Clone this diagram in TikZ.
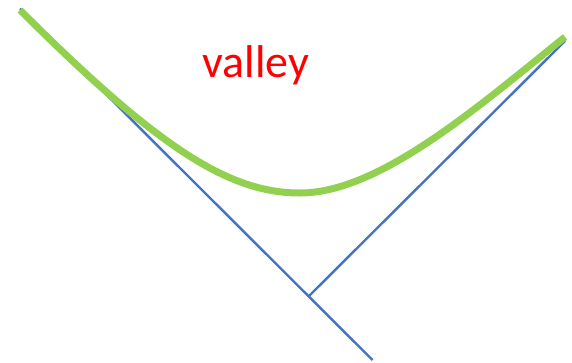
\documentclass[tikz,border=0pt]{standalone}
\usepackage{fontspec}
\setmainfont{Carlito}
\definecolor{axisblue}{HTML}{4472C4}
\definecolor{curvegreen}{HTML}{92D050}
\begin{document}
\begin{tikzpicture}[
  x=1pt, y=-1pt,
  % Line styles
  asym/.style={draw=axisblue, line width=2.4pt},
  valleycurve/.style={draw=curvegreen, line width=7pt},
  % Label style
  lbl/.style={font=\fontsize{46}{52}\selectfont, text=red, inner sep=0pt, anchor=base},
]
\useasboundingbox (0,0) rectangle (572,362);

% Corner points of the two lines
\coordinate (topleft) at (20,8.5);
\coordinate (bottom) at (372.5,360);
\coordinate (foot) at (308.5,296.5);
\coordinate (topright) at (565,41);

% Blue lines
\draw[asym] (topleft) -- (bottom);
\draw[asym] (foot) -- (topright);

% Green valley curve
\coordinate (cstart) at (20,10);
\coordinate (cmin) at (300,193);
\coordinate (cend) at (565,37);
\draw[valleycurve] (cstart) .. controls (160,150) and (230,193) .. (cmin)
  .. controls (380,193) and (480,105) .. (cend);

% Label
\node[lbl] (valley) at (256,77) {valley};

\end{tikzpicture}
\end{document}
